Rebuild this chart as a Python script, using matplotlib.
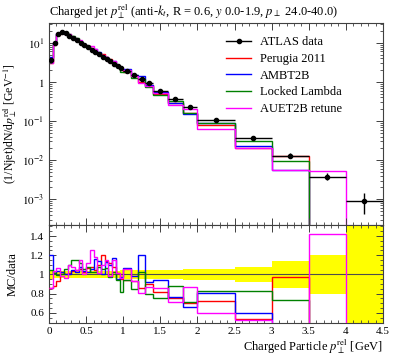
import matplotlib
matplotlib.use("Agg")
import matplotlib.pyplot as plt
import numpy as np
from matplotlib.lines import Line2D
from matplotlib.ticker import (FixedLocator, FuncFormatter, LogLocator,
                               MultipleLocator, NullFormatter)

plt.rcParams["font.family"] = ["Liberation Serif", "DejaVu Serif"]
plt.rcParams["mathtext.fontset"] = "stix"

# bin edges of the p_perp^rel distribution (GeV)
bin_edges = [0.0, 0.05, 0.1, 0.15, 0.2, 0.25, 0.3, 0.35, 0.4, 0.45, 0.5,
             0.55, 0.6, 0.65, 0.7, 0.75, 0.8, 0.85, 0.9, 0.95, 1.0,
             1.1, 1.2, 1.3, 1.4, 1.6, 1.8, 2.0, 2.5, 3.0, 3.5, 4.0, 4.5]

# ATLAS data, (1/Njet) dN/dp_perp^rel
atlas = [3.6, 9.8, 16.5, 18.5, 17.5, 15.2, 13.3, 11.6, 10.1, 8.8, 7.6,
         6.65, 5.8, 5.05, 4.4, 3.85, 3.35, 2.9, 2.5, 2.2,
         1.95, 1.5, 1.18, 0.92, 0.6, 0.37, 0.23, 0.107, 0.0375, 0.013,
         0.0038, 0.00092]
atlas_rel_err = [0.05, 0.04, 0.035, 0.035, 0.035, 0.035, 0.035, 0.035,
                 0.035, 0.035, 0.035, 0.035, 0.035, 0.04, 0.04, 0.04, 0.04,
                 0.04, 0.04, 0.045, 0.045, 0.045, 0.05, 0.05, 0.05, 0.05,
                 0.06, 0.055, 0.08, 0.14, 0.2, 0.55]

# MC / data ratios (0 = empty MC bin)
ratio_perugia = [0.86, 0.88, 0.93, 1.03, 1.01, 1.02, 1.04, 1.05, 1.06, 1.03,
                 1.07, 1.08, 1.05, 1.10, 1.20, 1.14, 1.12, 1.08, 1.02, 0.95,
                 0.94, 0.93, 0.86, 0.90, 0.82, 0.76, 0.70, 0.72, 0.54, 0.97,
                 0.0, 0.0]
ratio_ambt2b = [1.20, 1.02, 1.04, 1.03, 1.01, 1.00, 1.05, 1.03, 1.08, 1.04,
                1.03, 1.06, 1.16, 1.14, 1.00, 1.13, 1.10, 1.17, 0.95, 0.97,
                1.07, 0.98, 1.20, 0.92, 0.94, 0.77, 0.66, 0.81, 0.60, 0.42,
                0.0, 0.0]
ratio_locked = [1.05, 1.02, 0.99, 1.00, 1.06, 1.10, 1.15, 1.15, 1.12, 1.06,
                1.08, 1.03, 1.03, 1.08, 1.06, 1.07, 0.97, 1.03, 0.94, 0.82,
                0.94, 0.85, 1.03, 0.80, 0.75, 0.88, 0.71, 0.83, 0.83, 0.73,
                0.0, 0.0]
ratio_auet2b = [0.86, 1.04, 1.07, 0.98, 0.96, 1.10, 1.08, 1.05, 1.15, 1.00,
                1.12, 1.25, 1.18, 1.02, 1.10, 1.15, 0.98, 1.15, 1.02, 0.96,
                1.06, 0.93, 0.81, 0.87, 0.86, 0.71, 0.87, 0.60, 0.53, 0.42,
                1.42, 0.0]

mc_series = [
    ("Perugia 2011", ratio_perugia, "#ff0000"),
    ("AMBT2B", ratio_ambt2b, "#0000ff"),
    ("Locked Lambda", ratio_locked, "#008000"),
    ("AUET2B retune", ratio_auet2b, "#ff00ff"),
]

edges = np.array(bin_edges)
centers = 0.5 * (edges[:-1] + edges[1:])
half_w = 0.5 * np.diff(edges)
data = np.array(atlas)
rel = np.array(atlas_rel_err)

W, H = 397, 358
fig = plt.figure(figsize=(W / 100, H / 100), dpi=100)
L, R = 49, 383
ax = fig.add_axes([L / W, 1 - 225 / H, (R - L) / W, 202 / H])
rax = fig.add_axes([L / W, 1 - 322.5 / H, (R - L) / W, 97.5 / H])

frame_col = "0.25"
for a in (ax, rax):
    for s in a.spines.values():
        s.set_color(frame_col)
        s.set_linewidth(0.8)
    a.tick_params(which="both", direction="in", top=True, right=True,
                  colors=frame_col, labelcolor="black", labelsize=8)
    a.tick_params(which="major", length=5, width=0.7)
    a.tick_params(which="minor", length=2.5, width=0.6)
    a.set_xlim(0, 4.5)
    a.xaxis.set_major_locator(MultipleLocator(0.5))
    a.xaxis.set_minor_locator(MultipleLocator(0.1))

# main panel
for label, ratio, col in mc_series:
    r = np.array(ratio)
    vals = np.where(r > 0, r * data, 1e-12)
    ax.stairs(vals, edges, baseline=None, color=col, lw=1.0)
ax.errorbar(centers, data, xerr=half_w, yerr=rel * data, fmt="o",
            color="black", ms=3, lw=1.0, capsize=0, zorder=5)
ax.set_yscale("log")
ax.set_ylim(2.2e-4, 32)
ax.yaxis.set_major_locator(LogLocator(base=10, numticks=10))
ax.yaxis.set_minor_locator(LogLocator(base=10, subs=np.arange(2, 10),
                                      numticks=20))
ax.yaxis.set_minor_formatter(NullFormatter())


def log_fmt(v, pos):
    e = int(round(np.log10(v)))
    return "$1$" if e == 0 else "$10^{%d}$" % e


ax.yaxis.set_major_formatter(FuncFormatter(log_fmt))
ax.tick_params(axis="x", labelbottom=False)
ax.set_ylabel(r"(1/Njet)dN/d$p_\perp^{\rm rel}$ [GeV$^{-1}$]", fontsize=8.5)
ax.yaxis.set_label_coords(-0.09, 0.5)

handles = [Line2D([], [], color="black", marker="o", ms=3, lw=1.0)]
handles += [Line2D([], [], color=c, lw=1.0) for _, _, c in mc_series]
labels = ["ATLAS data"] + [n for n, _, _ in mc_series]
ax.legend(handles, labels, loc="upper left",
          bbox_to_anchor=((226 - L) / (R - L), 0.935), frameon=False,
          fontsize=9, handlelength=2.0, handletextpad=0.7,
          labelspacing=0.38, borderpad=0, borderaxespad=0)

# ratio panel
rax.stairs(1 + rel, edges, baseline=1 - rel, fill=True, color="#ffff00",
           lw=0, zorder=1)
rax.axhline(1.0, color="0.3", lw=0.8, zorder=2)
for label, ratio, col in mc_series:
    rax.stairs(np.array(ratio), edges, baseline=None, color=col, lw=1.0,
               zorder=3)
rax.set_ylim(0.5, 1.515)
rax.yaxis.set_major_locator(FixedLocator([0.6, 0.8, 1.0, 1.2, 1.4]))
rax.yaxis.set_minor_locator(MultipleLocator(0.05))
rax.yaxis.set_major_formatter(FuncFormatter(lambda v, p: "%g" % v))
rax.xaxis.set_major_formatter(FuncFormatter(lambda v, p: "%g" % v))
rax.set_ylabel("MC/data", fontsize=9)
rax.yaxis.set_label_coords(-0.09, 0.5)
rax.set_xlabel(r"Charged Particle $p_\perp^{\rm rel}$ [GeV]", fontsize=9,
               loc="right", labelpad=1)

fig.text(L / W, 1 - 12 / H,
         r"Charged jet $p_\perp^{\rm rel}$ (anti-$k_t$, R = 0.6, $y$ 0.0-1.9, "
         r"$p_\perp$ 24.0-40.0)", fontsize=9, ha="left", va="center")

fig.savefig("out.png", dpi=100)
